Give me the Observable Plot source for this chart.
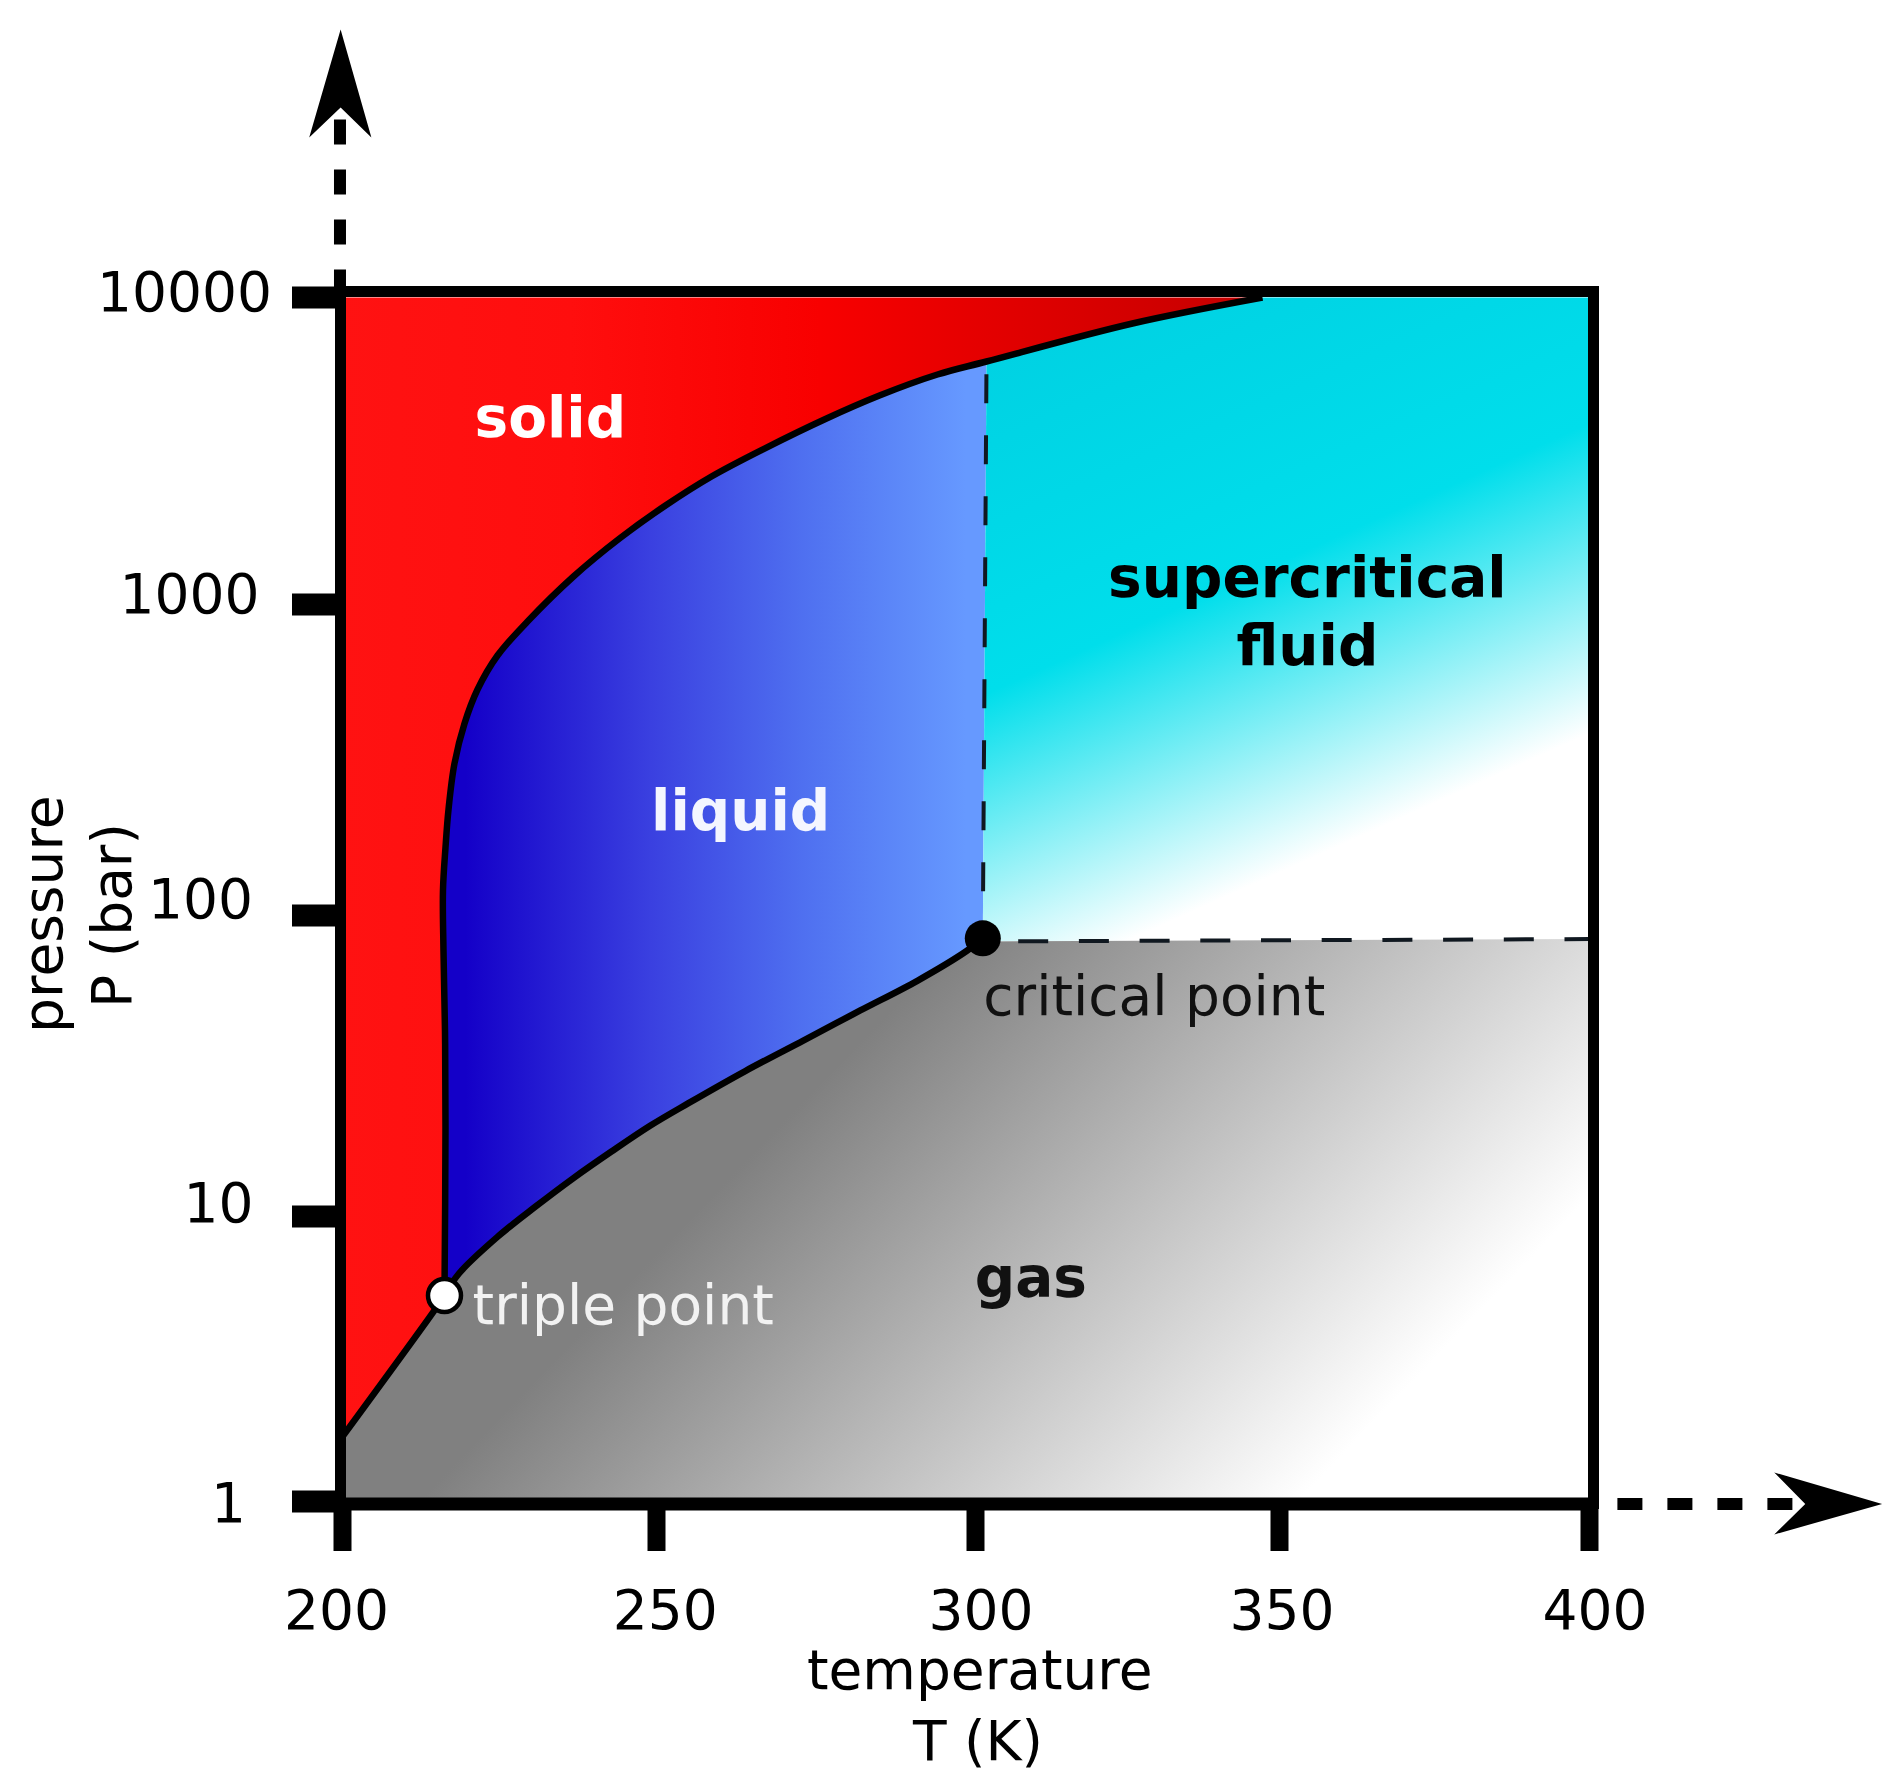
<!DOCTYPE html>
<html>
<head>
<meta charset="utf-8">
<script src="https://cdn.jsdelivr.net/npm/d3@7"></script>
<script src="https://cdn.jsdelivr.net/npm/@observablehq/plot@0.6"></script>
<style>html,body{margin:0;padding:0;background:#fff}svg{display:block}</style>
</head>
<body>
<div id="chart"></div>
<script>
// Axis values
const xTicks = [200, 250, 300, 350, 400];
const yTicks = [1, 10, 100, 1000, 10000];

// Phase boundaries: temperature (K) and pressure (bar)
const meltT = [216.24, 216.40, 216.32, 216.08, 216.00, 216.40, 216.88, 217.83, 219.43, 221.50, 224.68, 229.46, 236.78, 244.11, 251.41, 258.62, 266.93, 276.65, 284.95, 294.04, 301.81, 325.82, 347.20];
const meltP = [5.283, 19.76, 41.50, 76.50, 120.4, 165.4, 219.2, 308.1, 414.4, 532.9, 685.6, 881.9, 1234, 1641, 2101, 2612, 3221, 4036, 4795, 5613, 6187, 8230, 10000];
const subT = [200, 214.5, 216.24];
const subP = [1.69, 4.64, 5.283];
const boilT = [216.24, 218.55, 224.68, 230.77, 236.78, 242.83, 249.04, 255.01, 263.92, 273.01, 281.94, 290.95, 298.71, 301.15];
const boilP = [5.283, 6.31, 8.48, 10.80, 13.42, 16.44, 20.06, 23.80, 30.43, 38.43, 48.35, 60.80, 76.50, 84];

// Special points
const triple = {T: 216.24, P: 5.283};
const critical = {T: 301.2, P: 84};
const criticalTop = {T: 301.81, P: 6187};
const criticalLeft = {T: 301.2, P: 82};
const criticalRight = {T: 400, P: 83.5};

// Region labels
const labelText = ["solid", "liquid", "supercritical", "fluid", "gas", "critical point", "triple point"];
const labelT = [233.1, 263.2, 354.5, 354.5, 309.1, 329.4, 244.7];
const labelP = [4030, 216, 1216, 733, 6.05, 53.6, 4.82];
const labelBold = [true, true, true, true, true, false, false];
const labelColor = ["#ffffff", "#f4f6ff", "#000000", "#000000", "#111111", "#111111", "#f2f2f2"];

// Arrows beyond the axes
const upDashT = [199.6, 199.6];
const upDashP = [10230, 38000];
const upHeadT = [199.7, 204.6, 199.7, 194.7];
const upHeadP = [74600, 33200, 41600, 33200];
const rightDashT = [404.5, 434.0];
const rightDashP = [0.98, 0.98];
const rightHeadT = [447.2, 429.8, 434.8, 429.8];
const rightHeadP = [0.98, 1.264, 0.98, 0.766];

const zip = (ts, ps) => ts.map((T, i) => ({T, P: ps[i]}));
const melt = zip(meltT, meltP);
const sub = zip(subT, subP);
const boil = zip(boilT, boilP);
const splitAt = meltT.indexOf(criticalTop.T) + 1;

const solidPoly = [{T: 200, P: 10000}, ...melt.slice().reverse(), ...sub.slice().reverse()];
const liquidPoly = [...melt.slice(0, splitAt), critical, ...boil.slice().reverse()];
const superPoly = [...melt.slice(splitAt - 1), {T: 400, P: 10000}, criticalRight, criticalLeft];
const gasPoly = [...sub, ...boil, criticalLeft, criticalRight, {T: 400, P: 1}, {T: 200, P: 1}];

const gradient = (id, coords, stops) => {
  const g = d3.create("svg:linearGradient").attr("id", id).attr("gradientUnits", "userSpaceOnUse")
    .attr("x1", coords[0]).attr("y1", coords[1]).attr("x2", coords[2]).attr("y2", coords[3]);
  stops.forEach(([o, c]) => g.append("svg:stop").attr("offset", o).attr("stop-color", c));
  return g.node();
};
const defs = () => {
  const d = d3.create("svg:defs");
  d.append(() => gradient("gSolid", [340, 0, 1262, 0], [[0, "#ff1212"], [0.25, "#ff0e0e"], [0.52, "#f80000"], [0.70, "#e40000"], [1, "#c40000"]]));
  d.append(() => gradient("gLiquid", [465, 0, 965, 0], [[0, "#1400c8"], [0.37, "#3a40e0"], [0.676, "#4f70f0"], [1, "#6699ff"]]));
  d.append(() => gradient("gSuper", [1163, 284, 1402, 817], [[0, "#00d2e3"], [0.515, "#00deeb"], [1, "#ffffff"]]));
  d.append(() => gradient("gGas", [668, 1241, 1125, 1680], [[0, "#808080"], [1, "#ffffff"]]));
  return d.node();
};

const polygon = (pts, fill) => Plot.line(pts, {x: "T", y: "P", fill, stroke: "none"});
const curve = (pts) => Plot.line(pts, {x: "T", y: "P", stroke: "#000", strokeWidth: 6.5, curve: "catmull-rom", strokeLinecap: "butt"});

const xLabelDx = [-6, 8.8, 5.6, 2.6, 5.6];
const yLabelX = [228, 218, 200, 189, 184];
const yLabelDy = [3, -12, -15, -9, -4];

const fontFamily = "DejaVu Sans";
const axisFont = 55;
const chart = Plot.plot({
  width: 1899,
  height: 1790,
  marginLeft: 340,
  marginRight: 306,
  marginTop: 291,
  marginBottom: 287,
  style: {background: "#ffffff", fontFamily, color: "#000"},
  x: {type: "linear", domain: xTicks, range: [342, 656, 975, 1279, 1589], label: null},
  y: {type: "log", domain: yTicks, range: [1501, 1216, 915, 604, 297], label: null},
  marks: [
    defs,
    polygon(solidPoly, "url(#gSolid)"),
    polygon(liquidPoly, "url(#gLiquid)"),
    polygon(superPoly, "url(#gSuper)"),
    polygon(gasPoly, "url(#gGas)"),
    curve(melt),
    curve(sub),
    curve(boil),
    Plot.line([critical, criticalTop], {x: "T", y: "P", stroke: "#101820", strokeWidth: 4, strokeLinecap: "butt", strokeDasharray: "29,32", strokeDashoffset: 14}),
    Plot.line([criticalLeft, criticalRight], {x: "T", y: "P", stroke: "#101820", strokeWidth: 4, strokeLinecap: "butt", strokeDasharray: "30,30.7", strokeDashoffset: 25.3}),
    Plot.frame({stroke: "#000", strokeWidth: 11}),
    Plot.ruleY([1], {stroke: "#000", strokeWidth: 13, dy: 2.5}),
    Plot.axisX({ticks: xTicks, tickSize: 48, strokeWidth: 18, anchor: "bottom", tickFormat: () => "", label: null}),
    Plot.axisY({ticks: yTicks, tickSize: 48, strokeWidth: 22, anchor: "left", tickFormat: () => "", label: null}),
    Plot.dot([critical], {x: "T", y: "P", r: 18, fill: "#000"}),
    Plot.dot([triple], {x: "T", y: "P", r: 16.5, fill: "#fff", stroke: "#000", strokeWidth: 4.5}),
    Plot.line(zip(upDashT, upDashP), {x: "T", y: "P", stroke: "#000", strokeWidth: 12, strokeLinecap: "butt", strokeDasharray: "25,25"}),
    Plot.line(zip(upHeadT, upHeadP), {x: "T", y: "P", fill: "#000", stroke: "none"}),
    Plot.line(zip(rightDashT, rightDashP), {x: "T", y: "P", stroke: "#000", strokeWidth: 12, strokeLinecap: "butt", strokeDasharray: "25,25"}),
    Plot.line(zip(rightHeadT, rightHeadP), {x: "T", y: "P", fill: "#000", stroke: "none"}),
    ...xTicks.map((t, i) => Plot.text([t], {x: (d) => d, frameAnchor: "bottom", dx: xLabelDx[i], dy: 125, text: (d) => `${d}`, fontSize: axisFont, fontFamily, fill: "#000"})),
    ...yTicks.map((v, i) => Plot.text([v], {y: (d) => d, frameAnchor: "left", textAnchor: "middle", dx: yLabelX[i] - 340, dy: yLabelDy[i], text: (d) => `${d}`, fontSize: axisFont, fontFamily, fill: "#000"})),
    ...labelText.map((s, i) => Plot.text([s], {x: () => labelT[i], y: () => labelP[i], text: (d) => d, fontSize: labelBold[i] ? 56.5 : 55, fontFamily, fontWeight: labelBold[i] ? "bold" : "normal", fill: labelColor[i]})),
    Plot.text(["temperature"], {x: () => 300.7, frameAnchor: "bottom", dy: 185, text: (d) => d, fontSize: axisFont, fontFamily, fill: "#000"}),
    Plot.text(["T (K)"], {x: () => 300.4, frameAnchor: "bottom", dy: 256, text: (d) => d, fontSize: axisFont, fontFamily, fill: "#000"}),
    Plot.text(["pressure"], {y: () => 101, frameAnchor: "left", textAnchor: "middle", dx: -296.5, rotate: -90, text: (d) => d, fontSize: axisFont, fontFamily, fill: "#000"}),
    Plot.text(["P (bar)"], {y: () => 100, frameAnchor: "left", textAnchor: "middle", dx: -227.5, rotate: -90, text: (d) => d, fontSize: axisFont, fontFamily, fill: "#000"})
  ]
});
document.getElementById("chart").append(chart);
</script>
</body>
</html>
